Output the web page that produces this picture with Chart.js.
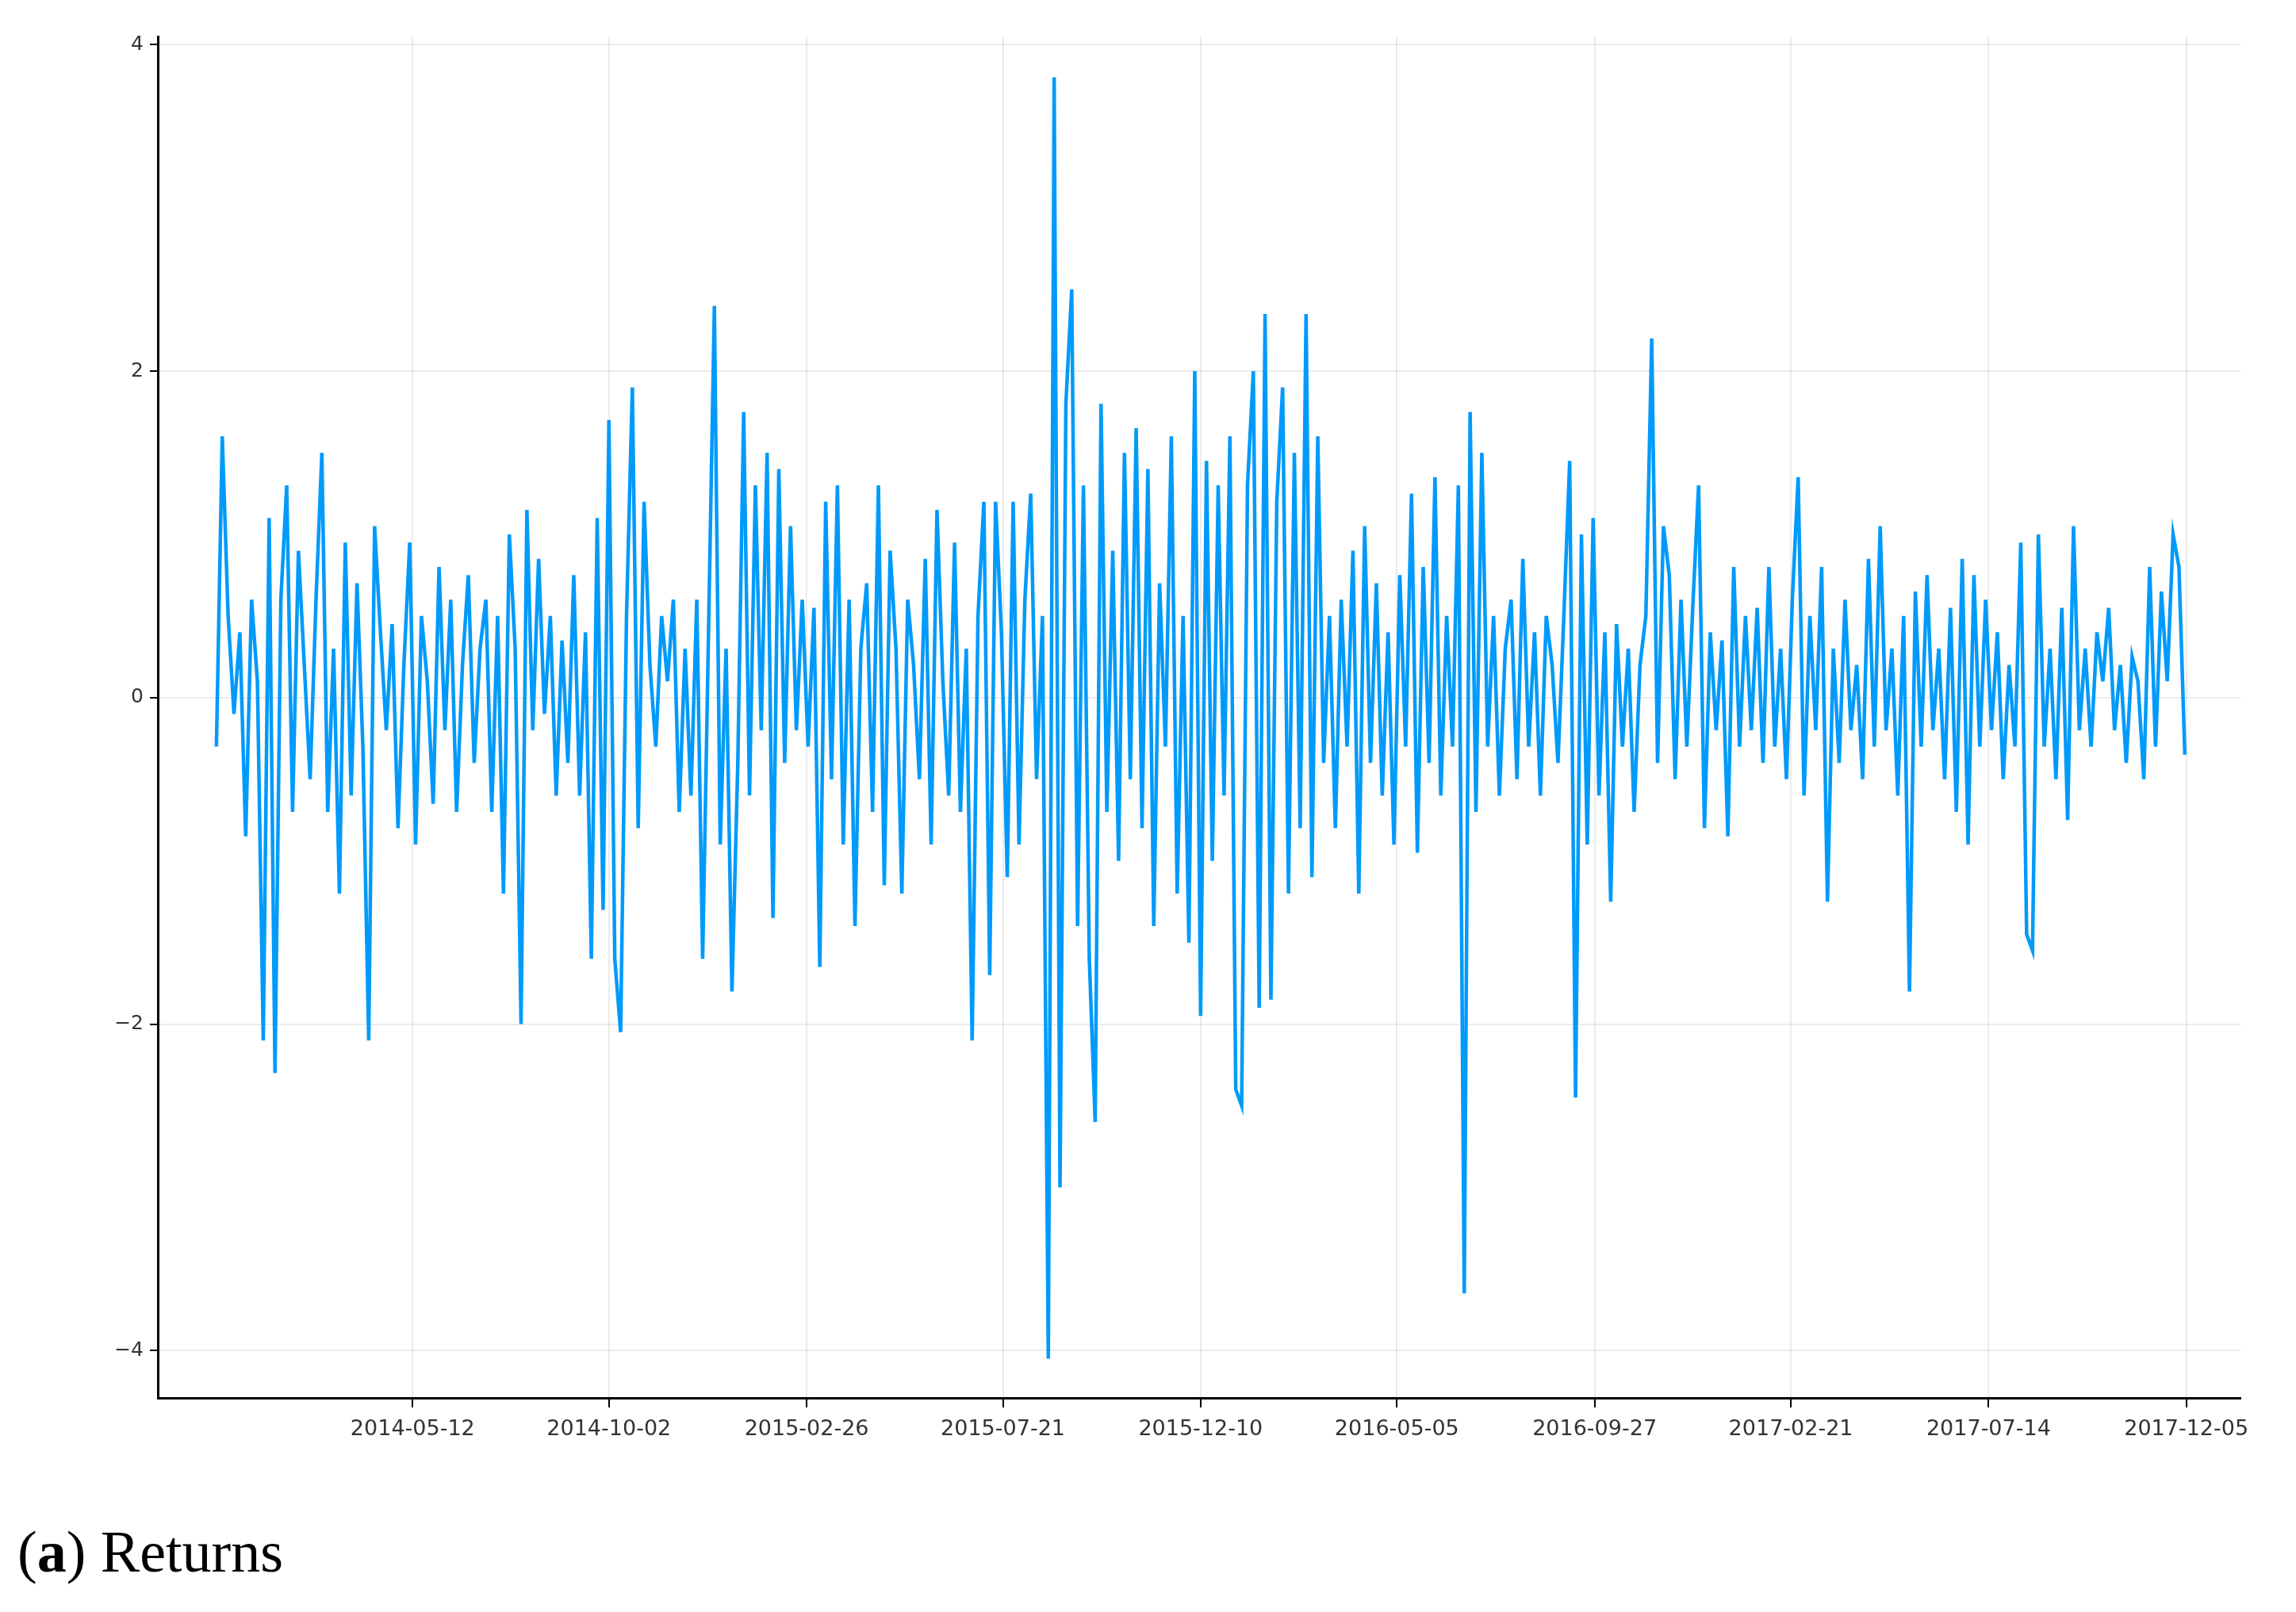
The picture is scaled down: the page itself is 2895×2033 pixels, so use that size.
<!DOCTYPE html>
<html>
<head>
<meta charset="utf-8">
<script src="https://cdn.jsdelivr.net/npm/chart.js@4/dist/chart.umd.min.js"></script>
<style>
  body{margin:0;background:#fff;width:2895px;height:2033px;overflow:hidden;position:relative}
  #wrap{position:absolute;left:0;top:0;width:2895px;height:1840px}
  #cap{position:absolute;left:22px;top:1915px;font-family:"Liberation Serif","DejaVu Serif",serif;font-size:74px;color:#000}
</style>
</head>
<body>
<div id="wrap"><canvas id="myChart"></canvas></div>
<div id="cap">(<b>a</b>) Returns</div>
<script>
// daily returns (one point every ~4 trading days)
const returns = [
  -0.3,1.6,0.5,-0.1,0.4,-0.85,0.6,0.1,-2.1,1.1,
  -2.3,0.6,1.3,-0.7,0.9,0.2,-0.5,0.6,1.5,-0.7,
  0.3,-1.2,0.95,-0.6,0.7,-0.3,-2.1,1.05,0.4,-0.2,
  0.45,-0.8,0.2,0.95,-0.9,0.5,0.1,-0.65,0.8,-0.2,
  0.6,-0.7,0.2,0.75,-0.4,0.3,0.6,-0.7,0.5,-1.2,
  1.0,0.3,-2.0,1.15,-0.2,0.85,-0.1,0.5,-0.6,0.35,
  -0.4,0.75,-0.6,0.4,-1.6,1.1,-1.3,1.7,-1.6,-2.05,
  0.5,1.9,-0.8,1.2,0.2,-0.3,0.5,0.1,0.6,-0.7,
  0.3,-0.6,0.6,-1.6,0.4,2.4,-0.9,0.3,-1.8,-0.4,
  1.75,-0.6,1.3,-0.2,1.5,-1.35,1.4,-0.4,1.05,-0.2,
  0.6,-0.3,0.55,-1.65,1.2,-0.5,1.3,-0.9,0.6,-1.4,
  0.3,0.7,-0.7,1.3,-1.15,0.9,0.3,-1.2,0.6,0.2,
  -0.5,0.85,-0.9,1.15,0.1,-0.6,0.95,-0.7,0.3,-2.1,
  0.5,1.2,-1.7,1.2,0.4,-1.1,1.2,-0.9,0.6,1.25,
  -0.5,0.5,-4.05,3.8,-3.0,1.8,2.5,-1.4,1.3,-1.6,
  -2.6,1.8,-0.7,0.9,-1.0,1.5,-0.5,1.65,-0.8,1.4,
  -1.4,0.7,-0.3,1.6,-1.2,0.5,-1.5,2.0,-1.95,1.45,
  -1.0,1.3,-0.6,1.6,-2.4,-2.5,1.3,2.0,-1.9,2.35,
  -1.85,1.2,1.9,-1.2,1.5,-0.8,2.35,-1.1,1.6,-0.4,
  0.5,-0.8,0.6,-0.3,0.9,-1.2,1.05,-0.4,0.7,-0.6,
  0.4,-0.9,0.75,-0.3,1.25,-0.95,0.8,-0.4,1.35,-0.6,
  0.5,-0.3,1.3,-3.65,1.75,-0.7,1.5,-0.3,0.5,-0.6,
  0.3,0.6,-0.5,0.85,-0.3,0.4,-0.6,0.5,0.2,-0.4,
  0.5,1.45,-2.45,1.0,-0.9,1.1,-0.6,0.4,-1.25,0.45,
  -0.3,0.3,-0.7,0.2,0.5,2.2,-0.4,1.05,0.75,-0.5,
  0.6,-0.3,0.55,1.3,-0.8,0.4,-0.2,0.35,-0.85,0.8,
  -0.3,0.5,-0.2,0.55,-0.4,0.8,-0.3,0.3,-0.5,0.6,
  1.35,-0.6,0.5,-0.2,0.8,-1.25,0.3,-0.4,0.6,-0.2,
  0.2,-0.5,0.85,-0.3,1.05,-0.2,0.3,-0.6,0.5,-1.8,
  0.65,-0.3,0.75,-0.2,0.3,-0.5,0.55,-0.7,0.85,-0.9,
  0.75,-0.3,0.6,-0.2,0.4,-0.5,0.2,-0.3,0.95,-1.45,
  -1.55,1.0,-0.3,0.3,-0.5,0.55,-0.75,1.05,-0.2,0.3,
  -0.3,0.4,0.1,0.55,-0.2,0.2,-0.4,0.25,0.1,-0.5,
  0.8,-0.3,0.65,0.1,1.0,0.8,-0.35
];
const dateLabels = ['2014-05-12','2014-10-02','2015-02-26','2015-07-21','2015-12-10',
  '2016-05-05','2016-09-27','2017-02-21','2017-07-14','2017-12-05'];
const dateTickIndex = [33.5,67,100.75,134.25,168,201.5,235.25,268.75,302.5,336.25];
const yTicks = [-4,-2,0,2,4];

window.addEventListener("load",function(){
  const pts = returns.map((v,i)=>({x:i,y:v}));
  new Chart(document.getElementById('myChart'),{
    type:'line',
    data:{datasets:[{data:pts,borderColor:'rgb(0,154,250)',borderWidth:4.5,pointRadius:0,tension:0}]},
    options:{
      responsive:true,maintainAspectRatio:false,animation:false,
      layout:{padding:{left:0,right:70,top:46,bottom:0}},
      plugins:{legend:{display:false},tooltip:{enabled:false}},
      scales:{
        x:{type:'linear',min:-10,max:345.5,
          afterBuildTicks:s=>{s.ticks=dateTickIndex.map(v=>({value:v}))},
          afterFit:s=>{s.height=77},
          ticks:{autoSkip:false,maxRotation:0,color:'#333',font:{family:'DejaVu Sans',size:27},padding:12,
            callback:(v,i)=>dateLabels[i]},
          grid:{color:'rgba(0,0,0,0.08)',lineWidth:2,tickLength:12,tickColor:'#000'},
          border:{color:'#000',width:3}},
        y:{min:-4.29,max:4.05,
          afterBuildTicks:s=>{s.ticks=yTicks.map(v=>({value:v}))},
          afterFit:s=>{s.width=199},
          ticks:{color:'#333',font:{family:'DejaVu Sans',size:25},padding:8,
            callback:v=>v<0?'\u2212'+(-v):String(v)},
          grid:{color:'rgba(0,0,0,0.08)',lineWidth:2,tickLength:10,tickColor:'#000'},
          border:{color:'#000',width:3}}
      }
    }
  });
});
</script>
</body>
</html>
